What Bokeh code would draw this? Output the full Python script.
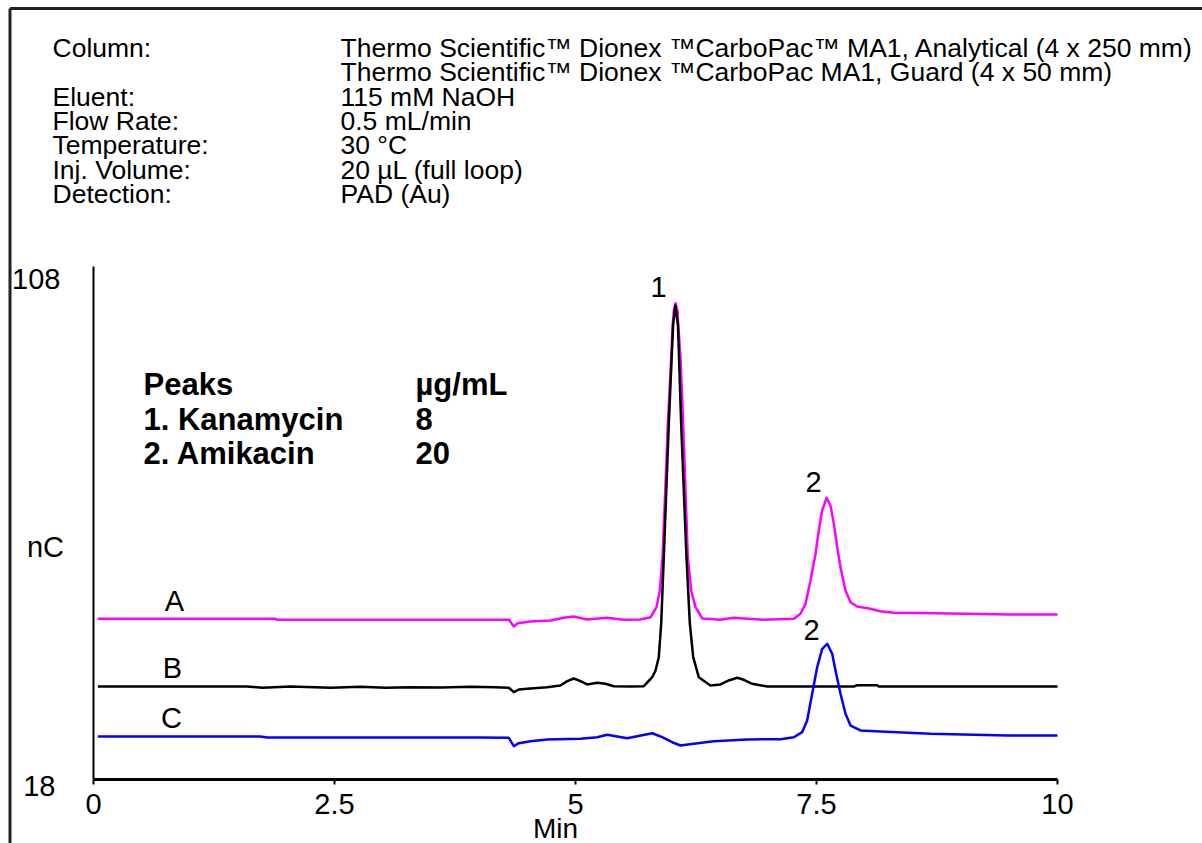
from bokeh.plotting import figure
from bokeh.models import Label, FixedTicker, Range1d
from bokeh.embed import file_html
from bokeh.resources import INLINE

# ---- chromatogram data: retention time (min) and detector response (nC) ----
trace_a_time = [0.045, 1.89, 1.90, 4.31, 4.36, 4.40, 4.53, 4.74, 4.88, 4.98,
                5.12, 5.33, 5.50, 5.67, 5.78, 5.84, 5.875, 5.903, 5.931, 5.958,
                5.993, 6.009, 6.020, 6.037, 6.058, 6.065, 6.089, 6.117, 6.141, 6.165,
                6.200, 6.245, 6.314, 6.37, 6.50, 6.64, 6.78, 6.95, 7.265, 7.334,
                7.386, 7.438, 7.490, 7.524, 7.559, 7.604, 7.645, 7.680, 7.715, 7.749,
                7.801, 7.853, 7.922, 8.06, 8.16, 8.30, 8.72, 9.51, 10.0]
trace_a_nc = [46.19, 46.19, 46.02, 46.02, 44.84, 45.42, 45.72, 45.89, 46.37, 46.60,
              46.07, 46.37, 46.02, 46.07, 46.47, 48.23, 51.16, 57.00, 68.70, 80.40,
              92.09, 98.00, 100.28, 101.56, 100.28, 98.00, 92.09, 80.40, 68.70, 57.00,
              51.16, 48.23, 46.25, 46.19, 46.02, 46.37, 46.19, 46.02, 46.19, 47.07,
              48.82, 52.91, 57.60, 61.68, 65.19, 67.42, 66.07, 62.86, 58.75, 55.25,
              51.16, 49.11, 48.35, 47.95, 47.53, 47.25, 47.18, 46.95, 46.95]

trace_b_time = [0.045, 1.594, 1.753, 2.044, 2.459, 2.770, 3.029, 3.288, 3.600, 3.911,
                4.170, 4.308, 4.360, 4.412, 4.533, 4.706, 4.844, 4.914, 4.982, 5.052,
                5.121, 5.225, 5.311, 5.397, 5.571, 5.709, 5.796, 5.830, 5.864, 5.889,
                5.916, 5.968, 6.012, 6.037, 6.063, 6.096, 6.151, 6.186, 6.221, 6.279,
                6.400, 6.504, 6.590, 6.677, 6.746, 6.833, 6.989, 7.887, 7.922, 8.130,
                8.146, 10.0]
trace_b_nc = [34.32, 34.32, 34.09, 34.32, 34.09, 34.26, 34.09, 34.19, 34.14, 34.26,
              34.19, 34.09, 33.32, 33.79, 33.96, 34.19, 34.49, 35.25, 35.72, 35.25,
              34.67, 34.96, 34.79, 34.37, 34.32, 34.37, 35.95, 37.12, 39.46, 45.37,
              57.00, 80.40, 97.65, 101.16, 97.65, 80.40, 57.00, 45.37, 39.46, 35.95,
              34.49, 34.67, 35.37, 35.84, 35.49, 34.79, 34.32, 34.32, 34.54, 34.54,
              34.32, 34.32]

trace_c_time = [0.045, 1.732, 1.802, 3.980, 4.308, 4.360, 4.412, 4.533, 4.706, 5.052,
                5.225, 5.329, 5.433, 5.536, 5.640, 5.796, 5.899, 6.003, 6.089, 6.227,
                6.435, 6.781, 7.127, 7.265, 7.351, 7.403, 7.455, 7.507, 7.559, 7.611,
                7.663, 7.697, 7.749, 7.801, 7.853, 7.956, 8.164, 8.683, 9.478, 10.0]
trace_c_nc = [25.54, 25.54, 25.37, 25.37, 25.32, 23.84, 24.37, 24.72, 25.02, 25.14,
              25.42, 25.84, 25.54, 25.25, 25.60, 26.12, 25.42, 24.54, 23.96, 24.26,
              24.72, 25.02, 25.07, 25.42, 26.30, 28.35, 33.04, 37.70, 40.93, 41.81,
              40.05, 37.12, 33.04, 29.53, 27.47, 26.60, 26.42, 26.02, 25.72, 25.72]

trace_names = ["A", "B", "C"]
trace_colors = ["#FF00FF", "#000000", "#0000FF"]

x_ticks = [0, 2.5, 5, 7.5, 10]
x_tick_labels = ["0", "2.5", "5", "7.5", "10"]
y_ticks = [108, 18]
y_tick_labels = ["108", "18"]

condition_names = ["Column:", "", "Eluent:", "Flow Rate:", "Temperature:",
                   "Inj. Volume:", "Detection:"]
condition_values = ["Thermo Scientific\u2122 Dionex \u2122CarboPac\u2122 MA1, Analytical (4 x 250 mm)",
                    "Thermo Scientific\u2122 Dionex \u2122CarboPac MA1, Guard (4 x 50 mm)",
                    "115 mM NaOH", "0.5 mL/min", "30 \u00b0C", "20 \u00b5L (full loop)",
                    "PAD (Au)"]

peak_names = ["1. Kanamycin", "2. Amikacin"]
peak_conc = ["8", "20"]

# ---- page geometry (pixels) ----
W, H = 1202, 843
OX, OY = 93, 779            # page position of (0 min, 18 nC)
PX_PER_MIN = 96.4
PX_PER_NC = 5.7
FONT = "Liberation Sans"


def at(px, py):
    """Page pixel position -> data coordinates."""
    return (px - OX) / PX_PER_MIN, 18 + (OY - py) / PX_PER_NC


x_lo, y_hi = at(0, 0)
x_hi, y_lo = at(W, H)

# the plot frame spans the whole page; axes are pinned at the data origin
p = figure(width=W, height=H, min_border=0,
           x_range=Range1d(x_lo, x_hi), y_range=Range1d(y_lo, y_hi),
           output_backend="svg", toolbar_location=None)
p.background_fill_color = "white"
p.border_fill_color = "white"
p.outline_line_color = None
p.grid.visible = False

xa = p.xaxis[0]
xa.fixed_location = 18
xa.bounds = (0, 10)
xa.ticker = FixedTicker(ticks=x_ticks)
xa.major_label_overrides = {t: s for t, s in zip(x_ticks, x_tick_labels)}
xa.minor_tick_line_color = None
xa.major_tick_in = 0
xa.major_tick_out = 5
xa.major_tick_line_width = 2
xa.axis_line_width = 3
xa.axis_line_color = "black"
xa.major_label_standoff = 9
xa.major_label_text_font = FONT
xa.major_label_text_font_size = "29px"
xa.major_label_text_color = "black"

ya = p.yaxis[0]
ya.fixed_location = 0
ya.bounds = (18, 108)
ya.ticker = FixedTicker(ticks=[])
ya.minor_tick_line_color = None
ya.major_tick_line_color = None
ya.axis_line_width = 2
ya.axis_line_color = "black"

# traces
for t, v, c in zip([trace_a_time, trace_b_time, trace_c_time],
                   [trace_a_nc, trace_b_nc, trace_c_nc], trace_colors):
    p.line(t, v, line_color=c, line_width=2.5, line_join="round")


def label(px, py, text, size=25, bold=False, align="left"):
    """Text whose baseline sits at page row py."""
    x, y = at(px, py - 0.37 * size)
    p.add_layout(Label(x=x, y=y, text=text, text_font=FONT,
                       text_font_size=f"{size}px",
                       text_font_style="bold" if bold else "normal",
                       text_color="black", text_align=align,
                       text_baseline="alphabetic"))


# y tick labels, tied to their values
for val, txt, dx, dy in zip(y_ticks, y_tick_labels, [-33, -38], [-12, -6]):
    p.add_layout(Label(x=0, y=val, x_offset=dx, y_offset=dy, text=txt,
                       text_font=FONT, text_font_size="29px", text_color="black",
                       text_align="right", text_baseline="middle"))

# chromatographic conditions
for i, (name, val) in enumerate(zip(condition_names, condition_values)):
    base = 57.5 + i * 24.3
    if name:
        label(52, base, name, 26.5)
    label(340, base, val, 26.5)

# peak table
label(143, 395, "Peaks", 31, True)
label(415, 395, "\u00b5g/mL", 31, True)
for i, (name, conc) in enumerate(zip(peak_names, peak_conc)):
    base = 430 + i * 34
    label(143, base, name, 31, True)
    label(415, base, conc, 31, True)

# trace names
for name, (px, py) in zip(trace_names, [(174, 611), (172, 678), (171, 728)]):
    label(px, py, name, 29, align="center")

# peak numbers
label(658, 297, "1", 29, align="center")
label(813, 492, "2", 29, align="center")
label(811, 640, "2", 29, align="center")

# axis titles
label(45, 557, "nC", 29, align="center")
label(555, 838, "Min", 28, align="center")

# page frame lines (top and left)
bx0, by0 = at(9.5, 8)
bx1, _ = at(W, 8)
_, by1 = at(9.5, H)
p.segment(x0=[bx0, bx0], y0=[by0, by0], x1=[bx1, bx0], y1=[by0, by1],
          line_color="#222222", line_width=3)

open("out.html", "w").write(file_html(p, INLINE))
